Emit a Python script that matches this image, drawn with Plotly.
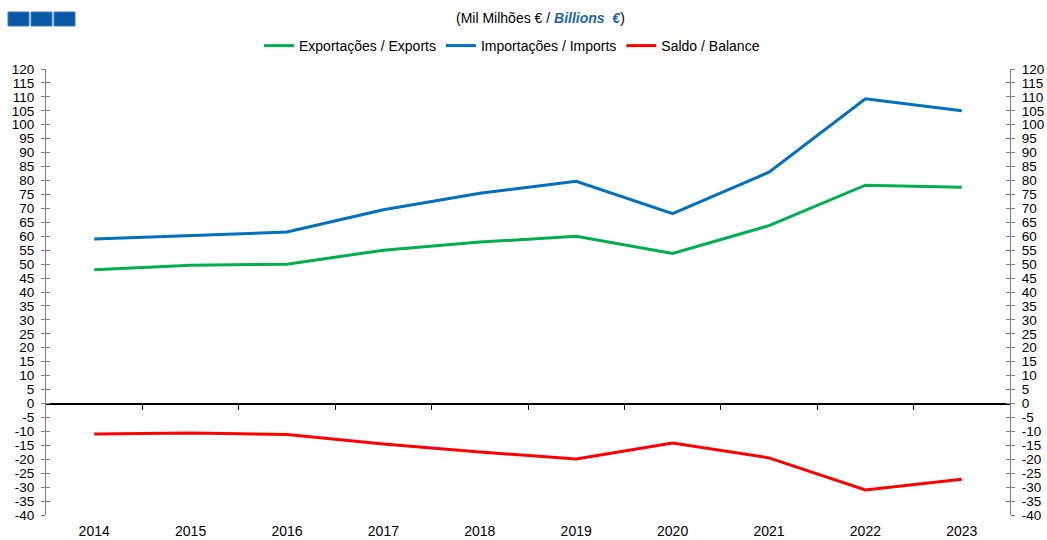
import plotly.graph_objects as go

years = ["2014", "2015", "2016", "2017", "2018", "2019", "2020", "2021", "2022", "2023"]
exports = [48.0, 49.6, 50.0, 55.0, 57.9, 60.0, 53.8, 63.8, 78.3, 77.6]
imports = [59.0, 60.2, 61.5, 69.5, 75.4, 79.7, 68.1, 83.0, 109.3, 105.0]
balance = [-10.9, -10.6, -11.1, -14.5, -17.4, -19.9, -14.2, -19.5, -31.0, -27.2]
y_ticks = list(range(-40, 121, 5))
y_labels = [str(v) for v in y_ticks]

xs = list(range(len(years)))
OFF = 0  # body margin removed via post_script
W, H = 1047, 540
# target plot area in screen pixels: x 46..1010, y 69..515
ML = 46 - OFF
MT = 69 - OFF
MR = W - (1010 - OFF)
MB = H - (515 - OFF)
PW = W - ML - MR
PH = H - MT - MB
FONT = "Liberation Sans, Arial, sans-serif"


def px_x(sx):
    return (sx - OFF - ML) / PW


def px_y(sy):
    return 1 - (sy - OFF - MT) / PH


fig = go.Figure()
fig.add_trace(go.Scatter(x=xs, y=exports, mode="lines", name="Exportações / Exports",
                         line=dict(color="#00b050", width=3)))
fig.add_trace(go.Scatter(x=xs, y=imports, mode="lines", name="Importações / Imports",
                         line=dict(color="#0070c0", width=3)))
fig.add_trace(go.Scatter(x=xs, y=balance, mode="lines", name="Saldo / Balance",
                         line=dict(color="#ff0000", width=3)))
# helper invisible traces so overlay axes get drawn
fig.add_trace(go.Scatter(x=[0], y=[0], xaxis="x2", yaxis="y2", mode="markers",
                         marker=dict(opacity=0), showlegend=False, hoverinfo="skip"))
fig.add_trace(go.Scatter(x=[0], y=[0], xaxis="x", yaxis="y3", mode="markers",
                         marker=dict(opacity=0), showlegend=False, hoverinfo="skip"))
fig.add_trace(go.Scatter(x=[0], y=[0], xaxis="x", yaxis="y4", mode="markers",
                         marker=dict(opacity=0), showlegend=False, hoverinfo="skip"))
fig.add_trace(go.Scatter(x=[0], y=[0], xaxis="x", yaxis="y5", mode="markers",
                         marker=dict(opacity=0), showlegend=False, hoverinfo="skip"))

yr = [-40, 120]
axcol = "#7f7f7f"
tickfont = dict(family=FONT, size=13.5, color="#000000")
zero_frac = (0 - yr[0]) / (yr[1] - yr[0])

fig.update_layout(
    width=W, height=H,
    margin=dict(l=ML, r=MR, t=MT, b=MB, autoexpand=False),
    paper_bgcolor="white", plot_bgcolor="white",
    font=dict(family=FONT, size=13, color="#000000"),
    showlegend=True,
    legend=dict(orientation="h", x=px_x(512), xanchor="center", y=px_y(46), yanchor="middle",
                font=dict(family=FONT, size=14), itemwidth=30, traceorder="normal"),
    xaxis=dict(range=[-0.5, len(years) - 0.5], tickvals=xs, ticktext=years,
               showgrid=False, zeroline=False, showline=False, ticks="",
               tickfont=dict(family=FONT, size=14, color="#000000"), ticklabelstandoff=6),
    xaxis2=dict(range=[-0.5, len(years) - 0.5], overlaying="x", anchor="free",
                position=zero_frac, tickvals=[i + 0.5 for i in xs[:-1]],
                ticks="outside", ticklen=5, tickcolor="#000000", showticklabels=False,
                showgrid=False, zeroline=False, showline=False),
    yaxis=dict(range=yr, tickvals=y_ticks, ticktext=y_labels, showgrid=False, zeroline=True,
               zerolinecolor="#000000", zerolinewidth=1.5,
               showline=True, linecolor=axcol, linewidth=1,
               ticks="outside", ticklen=4, tickcolor=axcol, tickfont=tickfont,
               ticklabelstandoff=4),
    yaxis2=dict(range=yr, overlaying="y", anchor="x2", showticklabels=False,
                showgrid=False, zeroline=False, showline=False, ticks=""),
    yaxis3=dict(range=yr, overlaying="y", side="left", tickvals=y_ticks,
                showticklabels=False, showgrid=False, zeroline=False,
                showline=False, ticks="inside", ticklen=4, tickcolor=axcol),
    yaxis4=dict(range=yr, overlaying="y", side="right", tickvals=y_ticks, ticktext=y_labels,
                showgrid=False, zeroline=False, showline=True, linecolor=axcol,
                ticks="outside", ticklen=4, tickcolor=axcol, tickfont=tickfont,
                ticklabelstandoff=4),
    yaxis5=dict(range=yr, overlaying="y", side="right", tickvals=y_ticks,
                showticklabels=False, showgrid=False, zeroline=False,
                showline=False, ticks="inside", ticklen=4, tickcolor=axcol),
)

fig.add_annotation(xref="paper", yref="paper", x=px_x(540), y=px_y(18),
                   xanchor="center", yanchor="middle", showarrow=False,
                   text="(Mil Milhões € / <b><i><span style='color:#1f64ad'>Billions  €</span></i></b>)",
                   font=dict(family=FONT, size=14, color="#000000"))

# header squares
for x0 in [8, 31, 54]:
    fig.add_shape(type="rect", xref="paper", yref="paper",
                  x0=px_x(x0), x1=px_x(x0 + 21), y0=px_y(26), y1=px_y(12),
                  fillcolor="#0a57a3", line=dict(color="#3b7cc0", width=1))

fig.write_html("out.html", config={"displayModeBar": False},
               post_script="document.body.style.margin='0';document.body.style.overflow='hidden';")
